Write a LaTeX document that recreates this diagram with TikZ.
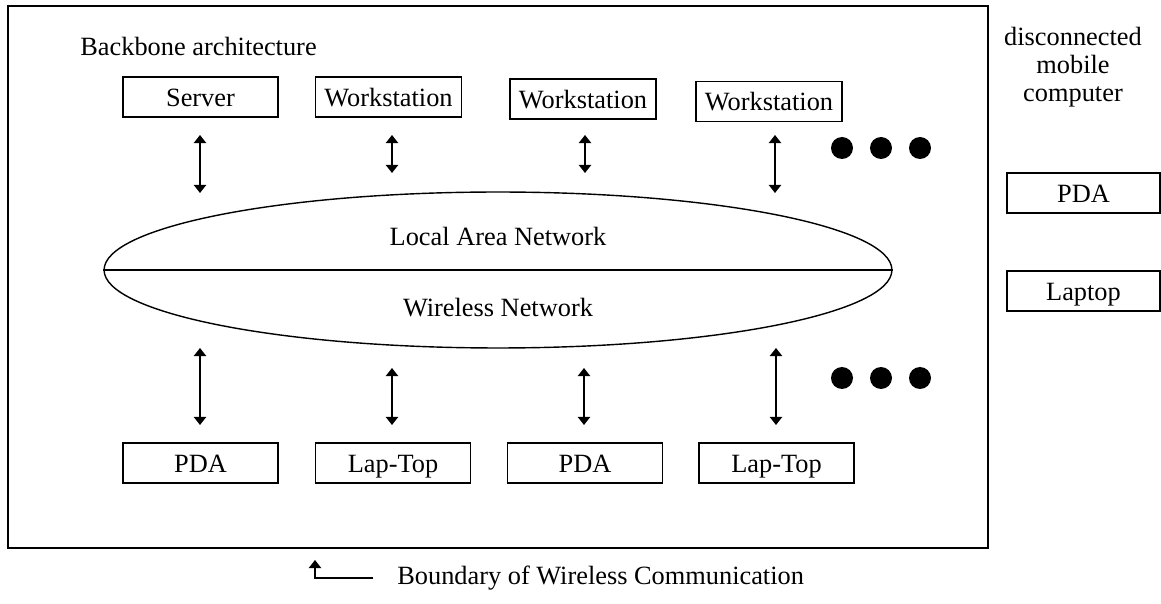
\documentclass[tikz,border=0pt]{standalone}
\usepackage{fontspec}
\setmainfont{Liberation Serif}
\usetikzlibrary{shapes}
\usetikzlibrary{arrows.meta}
\tikzset{
	label_text/.style = {
		align=center,
		inner sep=0pt,
		font=\fontsize{15}{15.8}\selectfont
	},
	node_box/.style = {
		label_text,
		rectangle,
		draw=black,
		line width=0.8pt,
		text height=12pt,
		text depth=1.2pt,
		minimum width=3.1cm,
		minimum height=0.8cm
	},
	node_ws/.style = {
		node_box,
		minimum width=2.92cm
	},
	node_net/.style = {
		ellipse,
		draw=black,
		line width=0.8pt,
		minimum width=15.76cm,
		minimum height=3.12cm
	},
	node_dot/.style = {
		circle,
		fill=black,
		inner sep=0pt,
		minimum size=0.44cm
	},
	link/.style = {
		{Triangle[length=4.6pt,width=7pt]}-{Triangle[length=4.6pt,width=7pt]},
		line width=0.8pt
	}
}
\begin{document}
\begin{tikzpicture}[x=0.02cm, y=-0.02cm]
\useasboundingbox (0,0) rectangle (1161,604);
% boundary of wireless communication
\draw [line width=0.8pt] (8,6) rectangle (988,548);
\node [label_text, anchor=west] (title) at (80,46) {Backbone architecture};

% backbone hosts
\node [node_box] (srv) at (200.5,97) {Server};
\node [node_ws] (ws1) at (388.5,97) {Workstation};
\node [node_ws] (ws2) at (583,99) {Workstation};
\node [node_ws] (ws3) at (769,101.5) {Workstation};

% networks
\node [node_net] (net) at (498,270) {};
\draw [line width=0.8pt] (net.west) -- (net.east);
\node [label_text] (lan) at (498,236) {Local Area Network};
\node [label_text] (wlan) at (498,308) {Wireless Network};

% mobile hosts
\node [node_box] (pda1) at (200.5,463) {PDA};
\node [node_box] (lt1) at (393,463) {Lap-Top};
\node [node_box] (pda2) at (585,463) {PDA};
\node [node_box] (lt2) at (776.5,463) {Lap-Top};

% upper arrows
\coordinate (srv_a) at (200,135);
\coordinate (srv_b) at (200,193);
\coordinate (ws1_a) at (392,135);
\coordinate (ws1_b) at (392,173);
\coordinate (ws2_a) at (585,135);
\coordinate (ws2_b) at (585,173);
\coordinate (ws3_a) at (775,135);
\coordinate (ws3_b) at (775,193);
\draw [link] (srv_a) -- (srv_b);
\draw [link] (ws1_a) -- (ws1_b);
\draw [link] (ws2_a) -- (ws2_b);
\draw [link] (ws3_a) -- (ws3_b);

% lower arrows
\coordinate (pda1_a) at (200,348);
\coordinate (pda1_b) at (200,425);
\coordinate (lt1_a) at (392,368);
\coordinate (lt1_b) at (392,425);
\coordinate (pda2_a) at (584,368);
\coordinate (pda2_b) at (584,425);
\coordinate (lt2_a) at (776,348);
\coordinate (lt2_b) at (776,425);
\draw [link] (pda1_a) -- (pda1_b);
\draw [link] (lt1_a) -- (lt1_b);
\draw [link] (pda2_a) -- (pda2_b);
\draw [link] (lt2_a) -- (lt2_b);

% more hosts
\node [node_dot] (dot1) at (842,148) {};
\node [node_dot] (dot2) at (881,148) {};
\node [node_dot] (dot3) at (920,148) {};
\node [node_dot] (dot4) at (842,378) {};
\node [node_dot] (dot5) at (881,378) {};
\node [node_dot] (dot6) at (920,378) {};

% disconnected hosts
\node [label_text] (disc) at (1073,67) {disconnected\\mobile\\computer};
\node [node_box, minimum width=3.06cm] (pda3) at (1083.5,193) {PDA};
\node [node_box, minimum width=3.06cm] (lap) at (1083.5,291) {Laptop};

% legend
\coordinate (leg_a) at (373,578);
\coordinate (leg_b) at (315,560);
\draw [-{Triangle[length=4.6pt,width=7pt]}, line width=0.8pt] (leg_a) -| (leg_b);
\node [label_text, anchor=west] (leg) at (397,578) {Boundary of Wireless Communication};
\end{tikzpicture}
\end{document}
